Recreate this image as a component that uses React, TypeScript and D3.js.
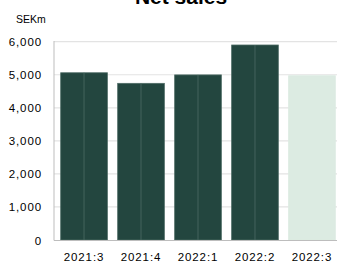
import React from "react";
import * as d3 from "d3";

const categories = ["2021:3", "2021:4", "2022:1", "2022:2", "2022:3"];
const values = [5060, 4740, 4995, 5900, 4970];
const highlight = [false, false, false, false, true];
const yTicks = [0, 1000, 2000, 3000, 4000, 5000, 6000];

export default function App() {
  const W = 337, H = 262;
  const x = d3.scaleBand<string>().domain(categories).range([54, 342]).paddingInner(0.181).paddingOuter(0.1175);
  const y = d3.scaleLinear().domain([0, 6000]).range([240, 41.7]);
  const fmt = d3.format(",");
  const font = "Liberation Sans, Arial, sans-serif";
  return (
    <svg width={W} height={H} style={{ position: "absolute", left: 0, top: 0 }} fontFamily={font}>
      <rect width={W} height={H} fill="#fff" />
      <text x={181} y={4} textAnchor="middle" fontSize={21} fontWeight="bold" fill="#000">Net sales</text>
      <text x={16} y={23} fontSize={10.5} fill="#000">SEKm</text>
      {yTicks.map(t => (
        <g key={t}>
          {t > 0 && <line x1={54} x2={W} y1={y(t)} y2={y(t)} stroke="#e3e3e3" strokeWidth={1.2} />}
          <text x={42} y={y(t) + 4.5} textAnchor="end" fontSize={11.5} letterSpacing={0.9} fill="#000">{fmt(t)}</text>
        </g>
      ))}
      {categories.map((c, i) => {
        const x0 = x(c)!;
        const bw = x.bandwidth();
        const dark = !highlight[i];
        return (
          <g key={c}>
            <rect x={x0} y={y(values[i])} width={bw} height={y(0) - y(values[i])}
              fill={dark ? "#23463f" : "#dcebe2"} stroke={dark ? "#4d6b64" : "#dcebe2"} strokeWidth={0.8} />
            {dark && <line x1={x0 + bw / 2} x2={x0 + bw / 2} y1={y(values[i])} y2={y(0)} stroke="#4d6b64" strokeWidth={0.8} />}
            <text x={x0 + bw / 2} y={261} textAnchor="middle" fontSize={11.5} letterSpacing={0.9} fill="#000">{c}</text>
          </g>
        );
      })}
      <line x1={54} x2={54} y1={41} y2={240.5} stroke="#bdbdbd" strokeWidth={1} />
      <line x1={54} x2={W} y1={240.5} y2={240.5} stroke="#bdbdbd" strokeWidth={1} />
    </svg>
  );
}
